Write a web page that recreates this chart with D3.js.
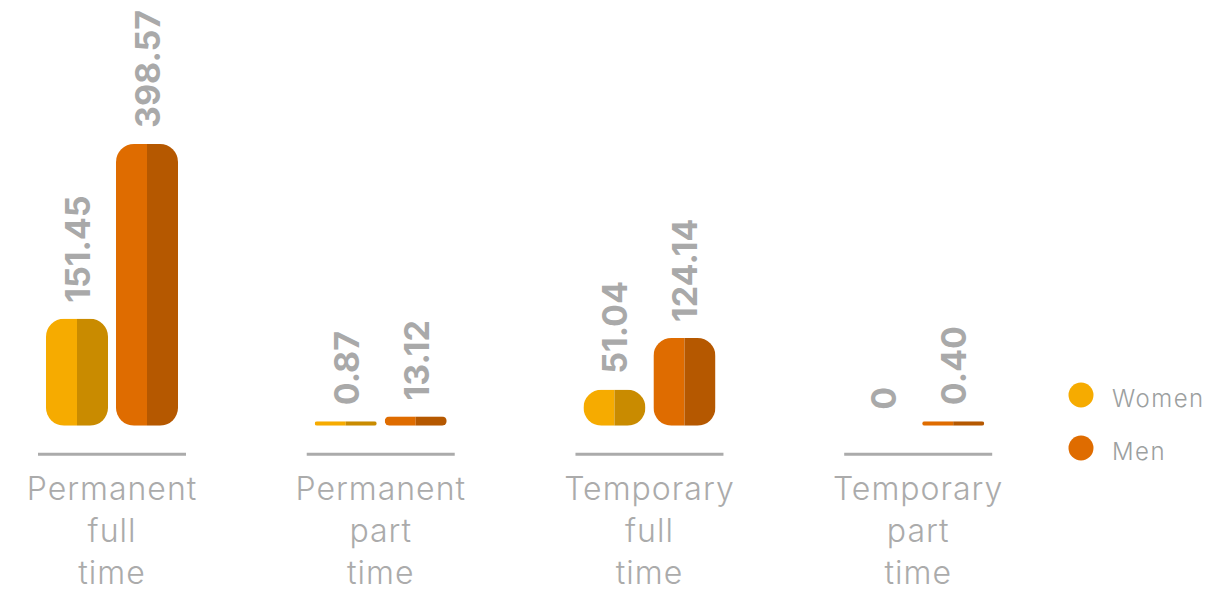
<!DOCTYPE html>
<html>
<head>
<meta charset="utf-8">
<script src="https://cdn.jsdelivr.net/npm/d3@7"></script>
<style>
  html, body { margin: 0; padding: 0; background: #ffffff; }
  svg { display: block; }
</style>
</head>
<body>
<svg id="chart" width="1220" height="608"></svg>
<script>
// Employees by contract type and gender
const categories = ["Permanent full time", "Permanent part time", "Temporary full time", "Temporary part time"];
const seriesNames = ["Women", "Men"];
const women = [151.45, 0.87, 51.04, 0];
const men = [398.57, 13.12, 124.14, 0.40];
const valueLabels = [["151.45", "0.87", "51.04", "0"], ["398.57", "13.12", "124.14", "0.40"]];

const lightColors = ["#F6AB00", "#DF6C00"];
const darkColors  = ["#C98B00", "#B55800"];

const svg = d3.select("#chart");
const baseY = 425.7;

const x = d3.scalePoint().domain(categories).range([112, 918.2]);
const xs = d3.scaleBand().domain(seriesNames).range([-66, 66]).paddingInner(8 / 70);
const y = d3.scaleLinear().domain([0, 398.57]).range([baseY, 144]);

const minH = 4.4;
const rows = [];
categories.forEach((c, i) => {
  [women, men].forEach((arr, s) => {
    rows.push({ cat: c, s, name: seriesNames[s], value: arr[i], label: valueLabels[s][i], id: `b${i}_${s}` });
  });
});

const defs = svg.append("defs");
const bw = xs.bandwidth();

rows.forEach(d => {
  const x0 = x(d.cat) + xs(d.name);
  let h = baseY - y(d.value);
  d.x0 = x0;
  if (d.value > 0 && h < minH) h = minH;
  d.drawH = h;
  d.top = baseY - h;
});

const bars = rows.filter(d => d.value > 0);

bars.forEach(d => {
  const r = Math.min(18, d.drawH / 2, bw / 2);
  defs.append("clipPath").attr("id", "clip_" + d.id)
    .append("rect")
    .attr("x", d.x0).attr("y", d.top)
    .attr("width", bw).attr("height", d.drawH)
    .attr("rx", r).attr("ry", r);
});

const g = svg.append("g");
const barG = g.selectAll("g.bar").data(bars).join("g")
  .attr("class", "bar")
  .attr("clip-path", d => `url(#clip_${d.id})`);

barG.append("rect")
  .attr("x", d => d.x0).attr("y", d => d.top)
  .attr("width", bw / 2).attr("height", d => d.drawH)
  .attr("fill", d => lightColors[d.s]);
barG.append("rect")
  .attr("x", d => d.x0 + bw / 2).attr("y", d => d.top)
  .attr("width", bw / 2).attr("height", d => d.drawH)
  .attr("fill", d => darkColors[d.s]);

// value labels, rotated
g.selectAll("text.val").data(rows).join("text")
  .attr("class", "val")
  .attr("transform", d => `translate(${d.x0 + bw / 2 + 13},${d.top - 16}) rotate(-90)`)
  .attr("text-anchor", "start")
  .attr("font-family", "Inter, 'Noto Sans', sans-serif")
  .attr("font-weight", 700)
  .attr("font-size", 34)
  .attr("fill", "#A9A9A9")
  .text(d => d.label);

// category baselines
g.selectAll("line.cat").data(categories).join("line")
  .attr("class", "cat")
  .attr("x1", d => x(d) - 74).attr("x2", d => x(d) + 74)
  .attr("y1", 454.3).attr("y2", 454.3)
  .attr("stroke", "#ABABAB").attr("stroke-width", 3);

// category labels, one word per line
const catText = g.selectAll("text.cat").data(categories).join("text")
  .attr("class", "cat")
  .attr("text-anchor", "middle")
  .attr("font-family", "Inter, 'Noto Sans', sans-serif")
  .attr("font-weight", 300)
  .attr("font-size", 32)
  .attr("letter-spacing", 1)
  .attr("fill", "#ABABAB");
catText.each(function(d) {
  const words = d.split(" ");
  d3.select(this).selectAll("tspan").data(words).join("tspan")
    .attr("x", x(d))
    .attr("y", (w, k) => 500 + k * 42)
    .text(w => w);
});

// legend
const legend = svg.append("g").selectAll("g").data(seriesNames).join("g")
  .attr("transform", (d, i) => `translate(1081,${395 + i * 53})`);
legend.append("circle").attr("r", 12.5).attr("fill", (d, i) => lightColors[i]);
legend.append("text")
  .attr("x", 31).attr("y", 12)
  .attr("font-family", "Inter, 'Noto Sans', sans-serif")
  .attr("font-weight", 300)
  .attr("font-size", 24)
  .attr("letter-spacing", 1.5)
  .attr("fill", "#9CA0A0")
  .text(d => d);
</script>
</body>
</html>
